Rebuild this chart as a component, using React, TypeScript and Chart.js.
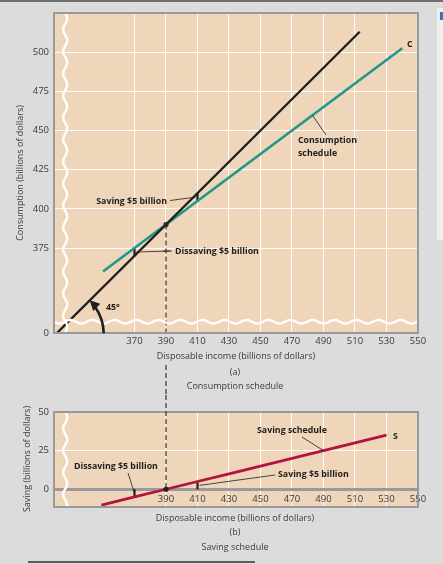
import React, { useEffect, useRef } from "react";
import { Chart, registerables } from "chart.js";

Chart.register(...registerables);

// ---------- data ----------
const diagonalIncome = [320, 513];
const consumptionIncome = [350, 370, 390, 410, 430, 450, 470, 490, 510, 530, 540];
const consumption = [360, 375, 390, 405, 420, 435, 450, 465, 480, 495, 502.5];
const savingIncome = [349, 370, 390, 410, 430, 450, 470, 490, 510, 530];
const saving = [-10.25, -5, 0, 5, 10, 15, 20, 25, 30, 35];
const xTicksTop = [370, 390, 410, 430, 450, 470, 490, 510, 530, 550];
const xTicksBottom = [390, 410, 430, 450, 470, 490, 510, 530, 550];
const yTicksTop = [375, 400, 425, 450, 475, 500];
const yTicksBottom = [0, 25, 50];
const equilibriumIncome = 390;
const breakIncome = 326;
const breakConsumption = 328;

const X_MIN = 318.9;
const X_MAX = 550;
const Y_MIN_TOP = 320.8;
const Y_MAX_TOP = 525;
const Y_MIN_BOT = -11.5;
const Y_MAX_BOT = 50;

// ---------- styles ----------
const FONT = '"Open Sans", "DejaVu Sans", sans-serif';
const TAN = "#efd6bb";
const FRAME = "#9a9a9a";
const GRID = "rgba(255,255,255,0.95)";
const TEAL = "#23968b";
const RED = "#b3133f";
const INK = "#1e1e1e";
const TICK = "#3a3a3a";
const NOTE = 8.8;
const TITLE = 9;

function txt(
  ctx: CanvasRenderingContext2D,
  s: string,
  x: number,
  y: number,
  o: { size?: number; bold?: boolean; align?: CanvasTextAlign; color?: string; rot?: number } = {}
) {
  ctx.save();
  ctx.font = `${o.bold ? "bold " : ""}${o.size ?? NOTE}px ${FONT}`;
  ctx.fillStyle = o.color ?? INK;
  ctx.textAlign = o.align ?? "left";
  ctx.textBaseline = "middle";
  ctx.translate(x, y);
  if (o.rot) ctx.rotate(o.rot);
  ctx.fillText(s, 0, 0);
  ctx.restore();
}

function line(ctx: CanvasRenderingContext2D, x0: number, y0: number, x1: number, y1: number, w = 0.8, c = INK) {
  ctx.save();
  ctx.strokeStyle = c;
  ctx.lineWidth = w;
  ctx.beginPath();
  ctx.moveTo(x0, y0);
  ctx.lineTo(x1, y1);
  ctx.stroke();
  ctx.restore();
}

function waveV(ctx: CanvasRenderingContext2D, x: number, y0: number, y1: number) {
  ctx.save();
  ctx.strokeStyle = "#ffffff";
  ctx.lineWidth = 2.4;
  ctx.beginPath();
  for (let y = y0; y <= y1; y += 1) {
    const xx = x + 2 * Math.sin(((y - y0) / 22) * 2 * Math.PI);
    if (y === y0) ctx.moveTo(xx, y);
    else ctx.lineTo(xx, y);
  }
  ctx.stroke();
  ctx.restore();
}

function waveH(ctx: CanvasRenderingContext2D, y: number, x0: number, x1: number) {
  ctx.save();
  ctx.strokeStyle = "#ffffff";
  ctx.lineWidth = 2.4;
  ctx.beginPath();
  for (let x = x0; x <= x1; x += 1) {
    const yy = y + 1.8 * Math.sin(((x - x0) / 22) * 2 * Math.PI);
    if (x === x0) ctx.moveTo(x, yy);
    else ctx.lineTo(x, yy);
  }
  ctx.stroke();
  ctx.restore();
}

function dashed(ctx: CanvasRenderingContext2D, x: number, y0: number, y1: number) {
  ctx.save();
  ctx.strokeStyle = "#222";
  ctx.lineWidth = 1.1;
  ctx.setLineDash([5, 3]);
  ctx.beginPath();
  ctx.moveTo(x, y0);
  ctx.lineTo(x, y1);
  ctx.stroke();
  ctx.restore();
}

function frame(ctx: CanvasRenderingContext2D, a: { left: number; top: number; right: number; bottom: number }) {
  ctx.save();
  ctx.strokeStyle = FRAME;
  ctx.lineWidth = 2;
  ctx.strokeRect(a.left, a.top, a.right - a.left, a.bottom - a.top);
  ctx.restore();
}

const tickFont = { family: FONT, size: 9.5 };

function topConfig(): any {
  const iLow = consumptionIncome.indexOf(370);
  const iHigh = consumptionIncome.indexOf(410);
  const decor = {
    id: "topDecor",
    beforeDraw(chart: any) {
      const { ctx, chartArea: a } = chart;
      ctx.save();
      ctx.fillStyle = TAN;
      ctx.fillRect(a.left, a.top, a.right - a.left, a.bottom - a.top);
      ctx.restore();
    },
    beforeDatasetsDraw(chart: any) {
      const { ctx, chartArea: a, scales } = chart;
      const x = scales.x.getPixelForValue(equilibriumIncome);
      dashed(ctx, x, scales.y.getPixelForValue(equilibriumIncome), a.bottom);
    },
    afterDatasetsDraw(chart: any) {
      const { ctx, chartArea: a, scales } = chart;
      const sx = scales.x,
        sy = scales.y;
      // axis breaks
      waveV(ctx, sx.getPixelForValue(breakIncome), a.top, a.bottom);
      waveH(ctx, sy.getPixelForValue(breakConsumption), a.left, a.right);
      frame(ctx, a);
      // dashed continuation below the axis title
      dashed(ctx, sx.getPixelForValue(equilibriumIncome), 365, chart.height);

      // 45 degree arc + arrow
      const cx = sx.getPixelForValue(diagonalIncome[0]);
      const cy = sy.getPixelForValue(diagonalIncome[0]);
      const r = 48;
      ctx.save();
      ctx.strokeStyle = INK;
      ctx.fillStyle = INK;
      ctx.lineWidth = 2.6;
      ctx.beginPath();
      ctx.arc(cx, cy, r, -0.02, -Math.PI / 4 + 0.16, true);
      ctx.stroke();
      const ang = -Math.PI / 4;
      const tx = cx + r * Math.cos(ang),
        ty = cy + r * Math.sin(ang);
      const dx = Math.sin(ang),
        dy = -Math.cos(ang);
      const nx = -dy,
        ny = dx;
      ctx.beginPath();
      ctx.moveTo(tx, ty);
      ctx.lineTo(tx - dx * 10 + nx * 5, ty - dy * 10 + ny * 5);
      ctx.lineTo(tx - dx * 10 - nx * 5, ty - dy * 10 - ny * 5);
      ctx.closePath();
      ctx.fill();
      ctx.restore();
      txt(ctx, "45°", 106, 307, { bold: true });

      // saving $5 billion (at 410)
      const bx1 = sx.getPixelForValue(consumptionIncome[iHigh]);
      const byMid = sy.getPixelForValue((consumption[iHigh] + consumptionIncome[iHigh]) / 2);
      line(ctx, 170, 200.5, bx1 - 2, byMid);
      txt(ctx, "Saving $5 billion", 167, 201, { bold: true, align: "right" });

      // dissaving $5 billion (at 370)
      const bx0 = sx.getPixelForValue(consumptionIncome[iLow]);
      const byMid0 = sy.getPixelForValue((consumption[iLow] + consumptionIncome[iLow]) / 2);
      line(ctx, bx0 + 2, byMid0, 172, 251);
      line(ctx, 163, 251, 170, 251);
      txt(ctx, "Dissaving $5 billion", 175, 251, { bold: true });

      // consumption schedule label
      const lx = sx.getPixelForValue(483);
      const ly = sy.getPixelForValue(390 + 0.75 * (483 - 390));
      line(ctx, lx, ly, 326, 135);
      txt(ctx, "Consumption", 298, 140, { bold: true });
      txt(ctx, "schedule", 298, 153, { bold: true });
      txt(ctx, "C", 407, 44, { bold: true });

      // titles
      txt(ctx, "Disposable income (billions of dollars)", 236, 356, { size: TITLE, align: "center", color: TICK });
      txt(ctx, "(a)", 235, 372, { size: TITLE, align: "center", color: TICK });
      txt(ctx, "Consumption schedule", 235, 386, { size: TITLE, align: "center", color: TICK });
      txt(ctx, "Consumption (billions of dollars)", 20, 173, {
        size: TITLE,
        align: "center",
        color: TICK,
        rot: -Math.PI / 2,
      });
    },
  };

  return {
    type: "scatter",
    data: {
      datasets: [
        {
          data: diagonalIncome.map((v) => ({ x: v, y: v })),
          showLine: true,
          borderColor: INK,
          borderWidth: 2.3,
          pointRadius: 0,
        },
        {
          data: consumptionIncome.map((v, i) => ({ x: v, y: consumption[i] })),
          showLine: true,
          borderColor: TEAL,
          borderWidth: 2.6,
          pointRadius: 0,
        },
        {
          data: [
            { x: consumptionIncome[iLow], y: consumptionIncome[iLow] },
            { x: consumptionIncome[iLow], y: consumption[iLow] },
          ],
          showLine: true,
          borderColor: INK,
          borderWidth: 2.2,
          pointRadius: 0,
        },
        {
          data: [
            { x: consumptionIncome[iHigh], y: consumption[iHigh] },
            { x: consumptionIncome[iHigh], y: consumptionIncome[iHigh] },
          ],
          showLine: true,
          borderColor: INK,
          borderWidth: 2.2,
          pointRadius: 0,
        },
        {
          data: [{ x: equilibriumIncome, y: equilibriumIncome }],
          pointRadius: 2.6,
          pointBackgroundColor: INK,
          pointBorderWidth: 0,
        },
      ],
    },
    options: {
      responsive: false,
      maintainAspectRatio: false,
      animation: false,
      events: [],
      layout: { padding: { top: 13, right: 25, left: 0, bottom: 0 } },
      plugins: { legend: { display: false }, tooltip: { enabled: false } },
      scales: {
        x: {
          type: "linear",
          min: X_MIN,
          max: X_MAX,
          afterBuildTicks: (s: any) => {
            s.ticks = xTicksTop.map((v) => ({ value: v }));
          },
          afterFit: (s: any) => {
            s.height = 62;
          },
          grid: { color: GRID, lineWidth: 1, drawTicks: false },
          border: { display: false },
          ticks: { padding: 3, color: TICK, font: tickFont, maxRotation: 0, autoSkip: false },
        },
        y: {
          type: "linear",
          min: Y_MIN_TOP,
          max: Y_MAX_TOP,
          afterBuildTicks: (s: any) => {
            s.ticks = [{ value: Y_MIN_TOP }, ...yTicksTop.map((v) => ({ value: v }))];
          },
          afterFit: (s: any) => {
            s.width = 54;
          },
          grid: {
            color: (c: any) => (c.tick && c.tick.value === Y_MIN_TOP ? "rgba(0,0,0,0)" : GRID),
            lineWidth: 1,
            drawTicks: false,
          },
          border: { display: false },
          ticks: {
            padding: 5,
            color: TICK,
            font: tickFont,
            autoSkip: false,
            callback: (v: number) => (v === Y_MIN_TOP ? "0" : String(v)),
          },
        },
      },
    },
    plugins: [decor],
  };
}

function bottomConfig(): any {
  const iLow = savingIncome.indexOf(370);
  const iHigh = savingIncome.indexOf(410);
  const iEq = savingIncome.indexOf(equilibriumIncome);
  const decor = {
    id: "botDecor",
    beforeDraw(chart: any) {
      const { ctx, chartArea: a } = chart;
      ctx.save();
      ctx.fillStyle = TAN;
      ctx.fillRect(a.left, a.top, a.right - a.left, a.bottom - a.top);
      ctx.restore();
    },
    afterDatasetsDraw(chart: any) {
      const { ctx, chartArea: a, scales } = chart;
      const sx = scales.x,
        sy = scales.y;
      waveV(ctx, sx.getPixelForValue(breakIncome), a.top, a.bottom);
      frame(ctx, a);
      dashed(ctx, sx.getPixelForValue(equilibriumIncome), 0, sy.getPixelForValue(saving[iEq]));
      ctx.save();
      ctx.fillStyle = INK;
      ctx.beginPath();
      ctx.arc(sx.getPixelForValue(equilibriumIncome), sy.getPixelForValue(saving[iEq]), 2.6, 0, Math.PI * 2);
      ctx.fill();
      ctx.restore();

      // saving schedule label
      const lx = sx.getPixelForValue(savingIncome[7]);
      const ly = sy.getPixelForValue(saving[7]);
      line(ctx, 302, 42, lx, ly);
      txt(ctx, "Saving schedule", 257, 35, { bold: true });
      txt(ctx, "S", 393, 41, { bold: true });

      // saving $5 billion
      const hx = sx.getPixelForValue(savingIncome[iHigh]);
      const hy = sy.getPixelForValue(saving[iHigh] / 2);
      line(ctx, hx + 2, hy, 275, 80);
      txt(ctx, "Saving $5 billion", 278, 79, { bold: true });

      // dissaving $5 billion
      const dxp = sx.getPixelForValue(savingIncome[iLow]);
      const dyp = sy.getPixelForValue(saving[iLow] / 2);
      line(ctx, 128, 78, dxp, dyp);
      txt(ctx, "Dissaving $5 billion", 74, 71, { bold: true });

      // titles
      txt(ctx, "Disposable income (billions of dollars)", 235, 123, { size: TITLE, align: "center", color: TICK });
      txt(ctx, "(b)", 235, 137, { size: TITLE, align: "center", color: TICK });
      txt(ctx, "Saving schedule", 235, 152, { size: TITLE, align: "center", color: TICK });
      txt(ctx, "Saving (billions of dollars)", 27, 64, {
        size: TITLE,
        align: "center",
        color: TICK,
        rot: -Math.PI / 2,
      });
    },
  };

  return {
    type: "scatter",
    data: {
      datasets: [
        {
          data: savingIncome.map((v, i) => ({ x: v, y: saving[i] })),
          showLine: true,
          borderColor: RED,
          borderWidth: 2.8,
          pointRadius: 0,
        },
        {
          data: [
            { x: savingIncome[iLow], y: saving[iLow] },
            { x: savingIncome[iLow], y: saving[iEq] },
          ],
          showLine: true,
          borderColor: INK,
          borderWidth: 2.2,
          pointRadius: 0,
        },
        {
          data: [
            { x: savingIncome[iHigh], y: saving[iEq] },
            { x: savingIncome[iHigh], y: saving[iHigh] },
          ],
          showLine: true,
          borderColor: INK,
          borderWidth: 2.2,
          pointRadius: 0,
        },
      ],
    },
    options: {
      responsive: false,
      maintainAspectRatio: false,
      animation: false,
      events: [],
      layout: { padding: { top: 17, right: 25, left: 0, bottom: 57 } },
      plugins: { legend: { display: false }, tooltip: { enabled: false } },
      scales: {
        x: {
          type: "linear",
          axis: "x",
          position: { y: 0 },
          min: X_MIN,
          max: X_MAX,
          afterBuildTicks: (s: any) => {
            s.ticks = xTicksBottom.map((v) => ({ value: v }));
          },
          grid: { color: GRID, lineWidth: 1, drawTicks: false },
          border: { display: true, color: FRAME, width: 3 },
          ticks: { padding: 4, color: TICK, font: tickFont, maxRotation: 0, autoSkip: false },
        },
        y: {
          type: "linear",
          min: Y_MIN_BOT,
          max: Y_MAX_BOT,
          afterBuildTicks: (s: any) => {
            s.ticks = yTicksBottom.map((v) => ({ value: v }));
          },
          afterFit: (s: any) => {
            s.width = 54;
          },
          grid: {
            color: (c: any) => (c.tick && c.tick.value === 25 ? GRID : "rgba(0,0,0,0)"),
            lineWidth: 1,
            drawTicks: false,
          },
          border: { display: false },
          ticks: { padding: 5, color: TICK, font: tickFont, autoSkip: false },
        },
      },
    },
    plugins: [decor],
  };
}

export default function App() {
  const topRef = useRef<HTMLCanvasElement>(null);
  const botRef = useRef<HTMLCanvasElement>(null);

  useEffect(() => {
    document.body.style.margin = "0";
    const top = new Chart(topRef.current as HTMLCanvasElement, topConfig());
    const bot = new Chart(botRef.current as HTMLCanvasElement, bottomConfig());
    return () => {
      top.destroy();
      bot.destroy();
    };
  }, []);

  return (
    <div
      style={{
        position: "absolute",
        left: 0,
        top: 0,
        width: 443,
        height: 564,
        background: "#dcdcdc",
        overflow: "hidden",
      }}
    >
      <div style={{ position: "absolute", left: 0, top: 0, width: 443, height: 2, background: "#6f6f6f" }} />
      <div style={{ position: "absolute", left: 437, top: 8, width: 6, height: 232, background: "#efefef" }} />
      <div style={{ position: "absolute", left: 440, top: 12, width: 3, height: 8, background: "#3b6fc5" }} />
      <canvas
        ref={topRef}
        width={443}
        height={395}
        style={{ position: "absolute", left: 0, top: 0, width: 443, height: 395 }}
      />
      <canvas
        ref={botRef}
        width={443}
        height={169}
        style={{ position: "absolute", left: 0, top: 395, width: 443, height: 169 }}
      />
      <div style={{ position: "absolute", left: 28, top: 561, width: 227, height: 2, background: "#5e5e5e" }} />
    </div>
  );
}
